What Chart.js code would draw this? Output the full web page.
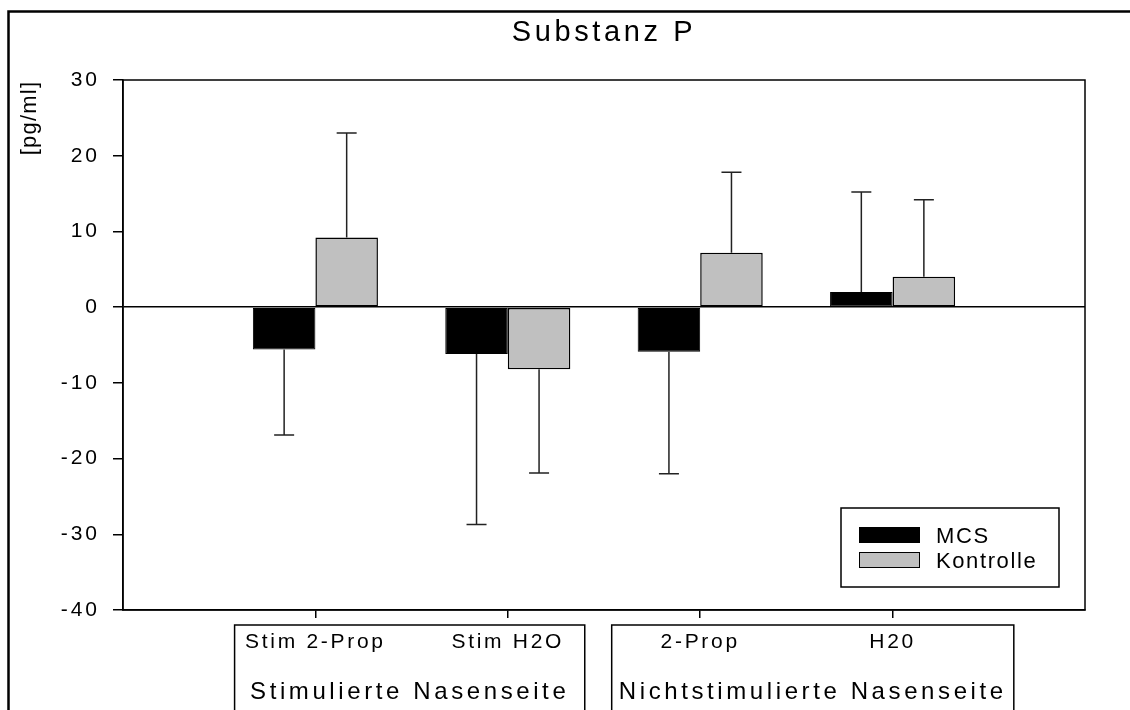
<!DOCTYPE html>
<html>
<head>
<meta charset="utf-8">
<script src="https://cdn.jsdelivr.net/npm/chart.js@4.4.0/dist/chart.umd.min.js"></script>
<style>
  body { margin: 0; background: #fff; }
  canvas { display: block; }
</style>
</head>
<body>
<canvas id="myChart" width="1130" height="710"></canvas>
<script>
// values
var categories = ['Stim 2-Prop', 'Stim H2O', '2-Prop', 'H20'];
var groups = ['Stimulierte Nasenseite', 'Nichtstimulierte Nasenseite'];
var mcsMean = [-5.6, -6.2, -5.9, 2.0];
var mcsErr = [11.3, 22.5, 16.1, 13.2];
var kontrolleMean = [9.2, -8.2, 7.2, 4.0];
var kontrolleErr = [13.8, 13.7, 10.6, 10.2];
var yTicks = [-40, -30, -20, -10, 0, 10, 20, 30];

var FONT = '"Liberation Sans", Arial, sans-serif';

// empty slot on each side, like the original x range
var labels = [''].concat(categories, ['']);
function pad(arr) { return [null].concat(arr, [null]); }

var errors = [mcsErr, kontrolleErr];

var decorations = {
    id: 'decorations',
    beforeDraw: function (chart) {
        chart.ctx.letterSpacing = '3px';
    },
    afterDatasetsDraw: function (chart) {
        var ctx = chart.ctx;
        var y = chart.scales.y;
        ctx.save();
        ctx.strokeStyle = '#222';
        ctx.lineWidth = 1.5;
        chart.data.datasets.forEach(function (ds, i) {
            var meta = chart.getDatasetMeta(i);
            meta.data.forEach(function (bar, j) {
                var v = ds.data[j];
                if (v === null) return;
                var e = errors[i][j - 1];
                var end = v >= 0 ? v + e : v - e;
                var yEnd = y.getPixelForValue(end);
                ctx.beginPath();
                ctx.moveTo(bar.x, bar.y);
                ctx.lineTo(bar.x, yEnd);
                ctx.moveTo(bar.x - 10, yEnd);
                ctx.lineTo(bar.x + 10, yEnd);
                ctx.stroke();
            });
        });
        ctx.restore();
    },
    afterDraw: function (chart) {
        var ctx = chart.ctx;
        var a = chart.chartArea;
        var x = chart.scales.x;
        ctx.save();

        // plot frame
        ctx.strokeStyle = '#000';
        ctx.lineWidth = 1.5;
        ctx.strokeRect(a.left, a.top, a.right - a.left, a.bottom - a.top);

        // outer frame (runs off the right and bottom)
        ctx.lineWidth = 2.5;
        ctx.strokeRect(8.5, 11.5, 1300, 900);

        ctx.fillStyle = '#000';

        // title
        ctx.font = '29px ' + FONT;
        ctx.letterSpacing = '3.6px';
        ctx.textAlign = 'center';
        ctx.textBaseline = 'alphabetic';
        ctx.fillText('Substanz P', (a.left + a.right) / 2, 41);

        // y axis title
        ctx.save();
        ctx.translate(30, 118);
        ctx.rotate(-Math.PI / 2);
        ctx.font = '22px ' + FONT;
        ctx.letterSpacing = '1.2px';
        ctx.textBaseline = 'middle';
        ctx.fillText('[pg/ml]', 0, 0);
        ctx.restore();

        // legend
        ctx.lineWidth = 1.5;
        ctx.strokeRect(841, 508, 218, 79);
        ctx.font = '22px ' + FONT;
        ctx.letterSpacing = '1.6px';
        ctx.textAlign = 'left';
        chart.data.datasets.forEach(function (ds, i) {
            var top = 527 + i * 25;
            ctx.fillStyle = ds.backgroundColor;
            ctx.fillRect(859, top, 61, 16);
            ctx.lineWidth = 1;
            ctx.strokeRect(859.5, top + 0.5, 60, 15);
            ctx.fillStyle = '#000';
            ctx.fillText(ds.label, 936, top + 16);
        });

        // group boxes under the axis
        var boxes = [[0.58, 2.4], [2.54, 4.63]];
        ctx.lineWidth = 1.5;
        boxes.forEach(function (b, i) {
            var l = x.left + b[0] * (x.right - x.left) / (labels.length - 1);
            var r = x.left + b[1] * (x.right - x.left) / (labels.length - 1);
            ctx.strokeRect(l, 625, r - l, 200);
            ctx.font = '24px ' + FONT;
            ctx.letterSpacing = '3.6px';
            ctx.textAlign = 'center';
            ctx.fillText(groups[i], (l + r) / 2, 699);
        });

        // category labels
        ctx.font = '21px ' + FONT;
        ctx.letterSpacing = '2.7px';
        ctx.textAlign = 'center';
        categories.forEach(function (c, i) {
            ctx.fillText(c, x.getPixelForValue(i + 1), 648);
        });

        ctx.restore();
        ctx.letterSpacing = '0px';
    }
};

var ctx = document.getElementById('myChart').getContext('2d');
var chart = new Chart(ctx, {
    type: 'bar',
    data: {
        labels: labels,
        datasets: [{
            label: 'MCS',
            data: pad(mcsMean),
            backgroundColor: '#000000',
            borderColor: '#000000',
            borderWidth: 1
        }, {
            label: 'Kontrolle',
            data: pad(kontrolleMean),
            backgroundColor: '#c0c0c0',
            borderColor: '#000000',
            borderWidth: 1.5
        }]
    },
    options: {
        responsive: false,
        animation: false,
        devicePixelRatio: 1,
        categoryPercentage: 0.65,
        barPercentage: 1.0,
        borderSkipped: false,
        layout: { padding: { top: 80, right: 45, bottom: 100, left: 10 } },
        plugins: {
            legend: { display: false },
            title: { display: false },
            tooltip: { enabled: false }
        },
        scales: {
            x: {
                offset: false,
                grid: {
                    offset: false,
                    drawOnChartArea: false,
                    drawTicks: true,
                    tickLength: 8,
                    lineWidth: 1.5,
                    tickColor: function (c) {
                        return (c.index === 0 || c.index === labels.length - 1) ? 'rgba(0,0,0,0)' : '#000';
                    }
                },
                border: { display: true, color: '#000', width: 1.5 },
                ticks: { display: false },
                afterFit: function (s) { s.height = 0; }
            },
            y: {
                min: -40,
                max: 30,
                afterBuildTicks: function (s) {
                    s.ticks = yTicks.map(function (v) { return { value: v }; });
                },
                grid: {
                    color: function (c) {
                        return c.tick && c.tick.value === 0 ? '#000' : 'rgba(0,0,0,0)';
                    },
                    lineWidth: 1.5,
                    tickColor: '#000',
                    tickLength: 10
                },
                border: { display: true, color: '#000', width: 1.5 },
                ticks: {
                    color: '#000',
                    padding: 13,
                    font: { family: FONT, size: 21 }
                },
                afterFit: function (s) { s.width = 113; }
            }
        }
    },
    plugins: [decorations]
});
</script>
</body>
</html>
